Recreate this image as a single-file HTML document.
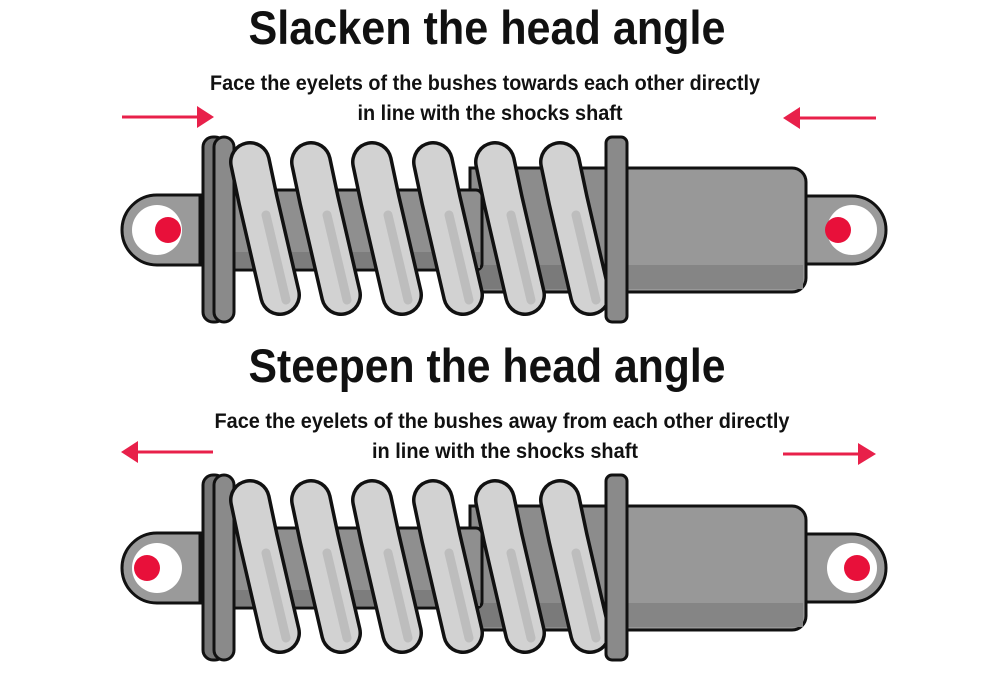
<!DOCTYPE html>
<html><head><meta charset="utf-8"><style>
html,body{margin:0;padding:0;background:#fff;}
svg{display:block}
text{font-family:"Liberation Sans",sans-serif;font-weight:bold;fill:#111}
</style></head><body>
<svg width="1000" height="676" viewBox="0 0 1000 676" xmlns="http://www.w3.org/2000/svg">
<defs>
<g id="shock">
  <path d="M200,195 L157,195 A35,35 0 0 0 157,265 L200,265 Z" fill="#9a9a9a" stroke="#111" stroke-width="3"/>
  <circle cx="157" cy="230" r="25" fill="#fff"/>
  <path d="M800,196 L852,196 A34,34 0 0 1 852,264 L800,264 Z" fill="#9a9a9a" stroke="#111" stroke-width="3"/>
  <circle cx="852" cy="230" r="25" fill="#fff"/>
  <rect x="600" y="168" width="206" height="124" rx="14" fill="#989898" stroke="#111" stroke-width="3"/>
  <rect x="603" y="265" width="200" height="24" fill="#858585"/>
  <rect x="470" y="168" width="145" height="124" fill="#8c8c8c" stroke="#111" stroke-width="3"/>
  <rect x="472" y="265" width="140" height="24" fill="#7a7a7a"/>
  <rect x="222" y="190" width="260" height="80" rx="6" fill="#8f8f8f" stroke="#111" stroke-width="3"/>
  <rect x="225" y="252" width="255" height="16" fill="#7d7d7d"/>
  <rect x="203" y="137" width="22" height="185" rx="10" fill="#777" stroke="#111" stroke-width="3"/>
  <rect x="214" y="137" width="20" height="185" rx="10" fill="#8a8a8a" stroke="#111" stroke-width="3"/>
  <g stroke-linecap="round" fill="none">
    <g id="coil">
      <path d="M250,162 L258,200 L280,295" stroke="#111" stroke-width="42"/>
      <path d="M250,162 L258,200 L280,295" stroke="#d2d2d2" stroke-width="35"/>
      <path d="M266,215 L286,300" stroke="#bdbdbd" stroke-width="9"/>
    </g>
    <use href="#coil" transform="translate(61,0)"/>
    <use href="#coil" transform="translate(122,0)"/>
    <use href="#coil" transform="translate(183,0)"/>
    <use href="#coil" transform="translate(245,0)"/>
    <use href="#coil" transform="translate(310,0)"/>
  </g>
  <rect x="606" y="137" width="21" height="185" rx="6" fill="#8a8a8a" stroke="#111" stroke-width="3"/>
</g>
</defs>

<text x="487" y="44" font-size="47" text-anchor="middle" textLength="477" lengthAdjust="spacingAndGlyphs">Slacken the head angle</text>
<text x="485" y="90" font-size="21" text-anchor="middle" textLength="550" lengthAdjust="spacingAndGlyphs">Face the eyelets of the bushes towards each other directly</text>
<text x="490" y="120" font-size="21" text-anchor="middle" textLength="265" lengthAdjust="spacingAndGlyphs">in line with the shocks shaft</text>

<text x="487" y="382" font-size="47" text-anchor="middle" textLength="477" lengthAdjust="spacingAndGlyphs">Steepen the head angle</text>
<text x="502" y="428" font-size="21" text-anchor="middle" textLength="575" lengthAdjust="spacingAndGlyphs">Face the eyelets of the bushes away from each other directly</text>
<text x="505" y="458" font-size="21" text-anchor="middle" textLength="266" lengthAdjust="spacingAndGlyphs">in line with the shocks shaft</text>

<g fill="#e8204a" stroke="#e8204a">
  <line x1="122" y1="117" x2="200" y2="117" stroke-width="3"/>
  <polygon points="197,106 214,117 197,128" stroke="none"/>
  <line x1="800" y1="118" x2="876" y2="118" stroke-width="3"/>
  <polygon points="800,107 783,118 800,129" stroke="none"/>
  <line x1="136" y1="452" x2="213" y2="452" stroke-width="3"/>
  <polygon points="138,441 121,452 138,463" stroke="none"/>
  <line x1="783" y1="454" x2="860" y2="454" stroke-width="3"/>
  <polygon points="858,443 876,454 858,465" stroke="none"/>
</g>

<use href="#shock"/>
<circle cx="168" cy="230" r="13" fill="#e8103a"/>
<circle cx="838" cy="230" r="13" fill="#e8103a"/>

<use href="#shock" transform="translate(0,338)"/>
<circle cx="147" cy="568" r="13" fill="#e8103a"/>
<circle cx="857" cy="568" r="13" fill="#e8103a"/>
</svg>
</body></html>
